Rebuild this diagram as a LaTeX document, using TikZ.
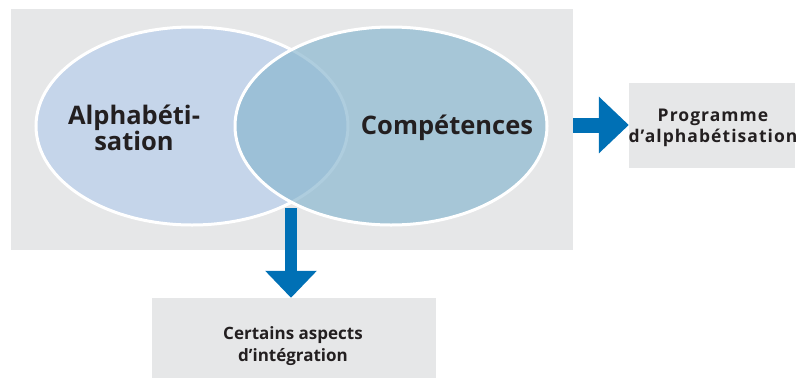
\documentclass[tikz,border=0pt]{standalone}
\usepackage{fontspec}
\setmainfont{Open Sans}
\usetikzlibrary{arrows.meta,shapes.geometric}
\definecolor{bggrey}{HTML}{E6E7E8}
\definecolor{leftfill}{HTML}{C5D5EA}
\definecolor{rightfill}{RGB}{140,184,208}
\definecolor{arrowblue}{HTML}{0070B5}
\definecolor{txt}{HTML}{231F20}
\tikzset{
  panel/.style={rectangle, fill=bggrey, inner sep=0pt},
  setell/.style={ellipse, draw=white, line width=3pt, inner sep=0pt, minimum width=312pt, minimum height=198pt},
  bigtxt/.style={text=txt, font=\bfseries\fontsize{25.5}{26.5}\selectfont, align=center},
  smalltxt/.style={text=txt, font=\bfseries\fontsize{17}{22}\selectfont, align=center},
  progfont/.style={text=txt, font=\bfseries\fontsize{17.5}{21.3}\selectfont\addfontfeatures{LetterSpace=6}, align=center},
}
\begin{document}
\begin{tikzpicture}[x=1pt,y=-1pt]
\useasboundingbox (0,0) rectangle (802,378);
\node[panel, minimum width=562pt, minimum height=241pt] (venn) at (292,129.5) {};
\node[setell, fill=leftfill] (alpha) at (192,126) {};
\node[setell, fill=rightfill, fill opacity=0.7] (comp) at (391,126) {};
\node[bigtxt] (alphatxt) at (134,128) {Alphabéti-\\sation};
\node[bigtxt] (comptxt) at (447,128) {Compétences};
\node[panel, minimum width=166pt, minimum height=85pt] (prog) at (712,125.5) {};
\node[progfont] (progtxt) at (713,128) {Programme\\d’alphabétisation};
\node[panel, minimum width=284pt, minimum height=80pt] (cert) at (294,338) {};
\node[smalltxt] (certtxt) at (293,346) {Certains aspects\\d’intégration};
\coordinate (inter) at (291,208);
\draw[draw=arrowblue, line width=15pt, -{Triangle[length=30pt,width=55pt]}] (venn.east |- 0,125) -- (prog.west |- 0,125);
\draw[draw=arrowblue, line width=12pt, -{Triangle[length=27pt,width=50pt]}] (inter) -- (inter |- cert.north);
\end{tikzpicture}
\end{document}
